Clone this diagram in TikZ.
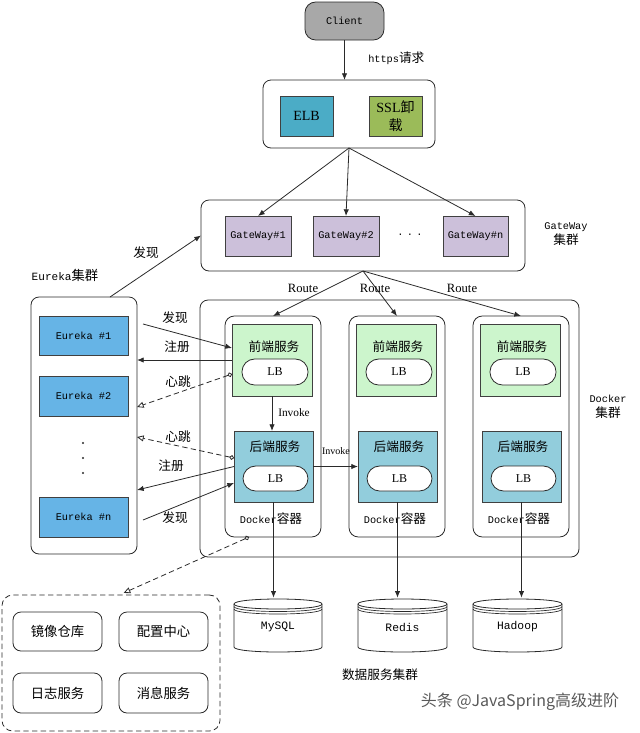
\documentclass[tikz,border=0pt]{standalone}
\usepackage{fontspec}
\setmainfont{Noto Sans CJK SC}
\setmonofont{Liberation Mono}
\newfontfamily\serifl{Liberation Serif}
\usetikzlibrary{arrows.meta,fit}
\definecolor{clientgray}{HTML}{A8A8A8}
\definecolor{elbblue}{HTML}{4BACC6}
\definecolor{sslgreen}{HTML}{9BBB59}
\definecolor{gwpurple}{HTML}{CCC0DA}
\definecolor{eurblue}{HTML}{66B4E6}
\definecolor{fegreen}{HTML}{CCF5CC}
\definecolor{beteal}{HTML}{92CDDC}
\definecolor{linec}{HTML}{2A2A2A}
\newcommand\mt[1]{{\ttfamily\fontsize{7.7}{9}\selectfont #1}}
\newcommand\dbcyl[4]{%
  \node[inner sep=0, fit={(#2,598)(#3,652)}] (#1) {};
  \draw[fill=white, draw=linec, line width=0.6pt] (#2,604) -- (#2,647) .. controls (#2,653.67) and (#3,653.67) .. (#3,647) -- (#3,604) .. controls (#3,597.33) and (#2,597.33) .. (#2,604) -- cycle;
  \draw[draw=linec, line width=0.6pt] (#2,604) .. controls (#2,610.67) and (#3,610.67) .. (#3,604);
  \draw[draw=linec, line width=0.5pt] (#2,606.5) .. controls (#2,613.17) and (#3,613.17) .. (#3,606.5);
  \draw[draw=linec, line width=0.5pt] (#2,609) .. controls (#2,615.67) and (#3,615.67) .. (#3,609);
  \node[inner sep=0pt, font=\ttfamily\fontsize{8.5}{10}\selectfont] (#1t) at ({(#2+#3)/2},627) {#4};
}
\begin{document}
\begin{tikzpicture}[x=0.75pt,y=-0.75pt,
  font=\fontsize{9.5}{11.5}\selectfont,
  cont/.style={draw=linec, rounded corners=6pt, fill=white, inner sep=0pt, outer sep=0pt, line width=0.6pt},
  box/.style={draw=black!75, inner sep=0pt, outer sep=0pt, line width=0.7pt},
  pill/.style={draw=linec, rounded corners=9.5pt, fill=white, inner sep=0pt, outer sep=0pt, line width=0.6pt},
  arr/.style={draw=linec, line width=0.6pt, -{Latex[length=5pt,width=4pt]}},
  hb/.style={draw=linec, line width=0.6pt, dash pattern=on 4pt off 2.5pt, {Circle[open,length=3.5pt,width=3.5pt]}-{Triangle[open,length=5pt,width=4.5pt]}},
  lbl/.style={inner sep=0pt},
  mono/.style={inner sep=0pt, font=\ttfamily\fontsize{7.7}{9}\selectfont},
  serl/.style={inner sep=0pt, font=\serifl\fontsize{9.5}{11}\selectfont},
  lbt/.style={inner sep=0pt, font=\serifl\fontsize{9}{10}\selectfont},
  cn/.style={inner sep=0pt, font=\fontsize{9.5}{11.5}\selectfont},
  cn10/.style={inner sep=0pt, font=\fontsize{10}{12}\selectfont}
]
\useasboundingbox (0,0) rectangle (640,733);

% Client and ELB
\node[cont, rounded corners=8pt, fill=clientgray, fit={(305,2)(384,40)}] (client) {};
\node[mono] (clientt) at (client.center) {Client};
\node[cont, fit={(263,80)(435,148)}] (elbc) {};
\node[box, fill=elbblue, fit={(280,96)(333,136)}] (elb) {};
\node[inner sep=0pt, font=\serifl\fontsize{10.5}{12}\selectfont] (elbt) at (elb.center) {ELB};
\node[box, fill=sslgreen, fit={(369,96)(422,136)}] (ssl) {};
\node[inner sep=0pt, align=center, font=\fontsize{10.5}{13}\selectfont] (sslt) at (ssl.center) {{\serifl SSL}卸\\载};
\draw[arr] (client.south) -- (client.south |- elbc.north);
\node[cn, anchor=west] (https) at (368,58) {\mt{https}请求};

% Gateway
\node[cont, fit={(201,200)(525,271)}] (gwc) {};
\node[box, fill=gwpurple, fit={(225,216)(291,256)}] (gw1) {};
\node[mono] (gw1t) at (gw1.center) {GateWay\#1};
\node[box, fill=gwpurple, fit={(313,216)(379,256)}] (gw2) {};
\node[mono] (gw2t) at (gw2.center) {GateWay\#2};
\node[box, fill=gwpurple, fit={(443,216)(508,256)}] (gwn) {};
\node[mono] (gwnt) at (gwn.center) {GateWay\#n};
\node[mono] (gwdots) at (410,235) {.\,\,.\,\,.};
\node[cn, align=center] (gwlab) at (566,234) {\mt{GateWay}\\集群};
\draw[arr] (elbc.south) -- (gw1.north);
\draw[arr] (elbc.south) -- (gw2.north);
\draw[arr] (elbc.south) -- (gwn.north);

% Docker cluster
\node[cont, fit={(200,300)(579,557)}] (dcc) {};
\node[cn, align=center] (dclab) at (608,407) {\mt{Docker}\\集群};
\foreach \i/\o in {1/0,2/124,3/248}{
  \node[cont, rounded corners=7pt, fit={(225+\o,316)(321+\o,537)}] (dc\i) {};
  \node[box, fill=fegreen, fit={(232+\o,324)(312+\o,396)}] (fe\i) {};
  \node[cn] (fet\i) at (274+\o,347) {前端服务};
  \node[pill, fit={(242+\o,359)(308+\o,385)}] (fel\i) {};
  \node[lbt] (felt\i) at (fel\i.center) {LB};
  \node[box, fill=beteal, fit={(234+\o,431)(313+\o,502)}] (be\i) {};
  \node[cn] (bet\i) at (275+\o,447) {后端服务};
  \node[pill, fit={(243+\o,466)(308+\o,491)}] (bel\i) {};
  \node[lbt] (belt\i) at (bel\i.center) {LB};
  \node[cn] (dct\i) at (271+\o,519) {\mt{Docker}容器};
}
\draw[arr] (gwc.south) -- (dc1.north);
\draw[arr] (gwc.south) -- (dc2.north);
\draw[arr] (gwc.south) -- (dc3.north);
\node[serl] (r1) at (303,288) {Route};
\node[serl] (r2) at (375,288) {Route};
\node[serl] (r3) at (462,288) {Route};
\draw[arr] (fe1.south) -- (fe1.south |- be1.north);
\node[serl, anchor=west, font=\serifl\fontsize{8.5}{10}\selectfont] (inv1) at (278,413) {Invoke};
\draw[arr] (be1.east) -- (be2.west);
\node[serl, font=\serifl\fontsize{7.5}{9}\selectfont] (inv2) at (336,451) {Invoke};

% Databases
\dbcyl{mysql}{234}{322}{MySQL}
\dbcyl{redis}{358}{447}{Redis}
\dbcyl{hadoop}{473}{562}{Hadoop}
\draw[arr] (be1.south) -- (be1.south |- mysql.north);
\draw[arr] (be2.south) -- (be2.south |- redis.north);
\draw[arr] (be3.south) -- (be3.south |- hadoop.north);
\node[cn] (dbslab) at (380,675) {数据服务集群};

% Eureka cluster
\node[cont, fit={(31,297)(137,554)}] (euc) {};
\node[cn, font=\fontsize{10}{12}\selectfont] (eulab) at (65,275) {{\ttfamily\fontsize{8.3}{10}\selectfont Eureka}集群};
\node[box, fill=eurblue, fit={(39,316)(128,355)}] (e1) {};
\node[mono] (e1t) at (e1.center) {Eureka \#1};
\node[box, fill=eurblue, fit={(39,376)(128,416)}] (e2) {};
\node[mono] (e2t) at (e2.center) {Eureka \#2};
\node[box, fill=eurblue, fit={(39,497)(128,537)}] (en) {};
\node[mono] (ent) at (en.center) {Eureka \#n};
\fill[linec] (83,443) circle[radius=0.9pt] (83,458) circle[radius=0.9pt] (83,473) circle[radius=0.9pt];
\draw[arr] ([xshift=19.5pt]euc.north) -- (gwc.west);
\node[cn] (fx0) at (146,253) {发现};

\coordinate (d1) at (143,324);
\coordinate (d2) at (143,520);
\draw[arr] (d1) -- ([yshift=9pt]fe1.west);
\node[cn] (fx1) at (175,318) {发现};
\draw[arr] (fe1.west) -- (euc.east |- fe1.west);
\node[cn] (zc1) at (177,347) {注册};
\draw[hb] ([yshift=-10.5pt]fe1.west) -- ([yshift=13.875pt]euc.east);
\node[cn] (xt1) at (178,382) {心跳};
\draw[hb] ([yshift=6.375pt]be1.west) -- ([yshift=-8.625pt]euc.east);
\node[cn] (xt2) at (178,437) {心跳};
\draw[arr] (be1.west) -- ([yshift=-48.375pt]euc.east);
\node[cn] (zc2) at (171,466) {注册};
\draw[arr] (d2) -- ([yshift=-12.375pt]be1.west);
\node[cn] (fx2) at (175,518) {发现};

% Infrastructure box
\node[draw=linec, line width=0.6pt, dash pattern=on 4pt off 2.5pt, rounded corners=8pt, inner sep=0pt, fit={(2,595)(220,731)}] (infra) {};
\node[cont, rounded corners=6pt, fit={(13,612)(102,651)}] (repo) {};
\node[cn10] (repot) at (repo.center) {镜像仓库};
\node[cont, rounded corners=6pt, fit={(119,612)(208,651)}] (cfg) {};
\node[cn10] (cfgt) at (cfg.center) {配置中心};
\node[cont, rounded corners=6pt, fit={(13,673)(102,713)}] (logs) {};
\node[cn10] (logst) at (logs.center) {日志服务};
\node[cont, rounded corners=6pt, fit={(119,673)(208,713)}] (msgs) {};
\node[cn10] (msgst) at (msgs.center) {消息服务};
\draw[hb, shorten >=3pt] ([xshift=-18pt]dc1.south) -- ([xshift=6.75pt]infra.north);

% Watermark
\node[inner sep=0pt, text=black!65, font=\fontsize{12}{14}\selectfont] (wm) at (520,702) {头条 @JavaSpring高级进阶};
\end{tikzpicture}
\end{document}
